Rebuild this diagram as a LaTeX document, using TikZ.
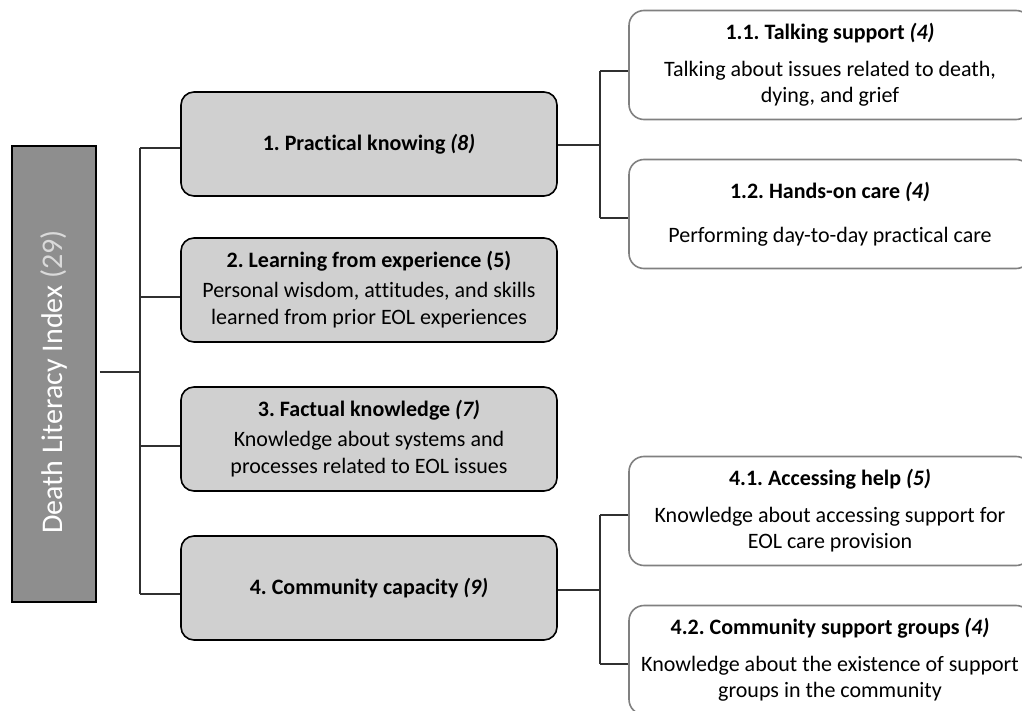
\documentclass[tikz,border=0pt]{standalone}
\usepackage{fontspec}
\setmainfont[Ligatures={NoCommon,NoContextual}]{Carlito}
\begin{document}
\frenchspacing
\begin{tikzpicture}[x=1pt,y=-1pt,
  mainbox/.style={draw=black,line width=1.6pt,fill=mainfill,rounded corners=13pt,
    minimum width=376pt,minimum height=104pt,align=center,inner sep=0pt,
    font=\fontsize{22}{27.5}\selectfont},
  subbox/.style={draw=subedge,line width=1.6pt,fill=white,rounded corners=15pt,
    minimum width=402pt,minimum height=109pt,align=center,inner sep=0pt,
    font=\fontsize{22}{26.5}\selectfont},
  rootbox/.style={draw=black,line width=1.6pt,fill=rootfill,minimum width=456pt,
    minimum height=84pt,inner sep=0pt,rotate=90,text=white,
    font=\fontsize{30}{34}\selectfont},
  conn/.style={draw=connc,line width=1.2pt}]
\definecolor{mainfill}{HTML}{D0D0D0}
\definecolor{rootfill}{HTML}{8E8E8E}
\definecolor{subedge}{HTML}{808080}
\definecolor{connc}{HTML}{303030}
\definecolor{lightnum}{HTML}{DADADA}
\useasboundingbox (0,0) rectangle (1022,711);
\clip (0,0) rectangle (1022,711);
\fill[white] (0,0) rectangle (1022,711);

\node[rootbox] (root) at (54,374) {Death Literacy Index \textcolor{lightnum}{(29)}\hspace*{16pt}};

\node[mainbox] (b1) at (369,144) {\textbf{1. Practical knowing \textit{(8)}}};
\node[mainbox] (b2) at (369,290) {\textbf{2. Learning from experience (5)}\\[2pt]Personal wisdom, at\-titudes, and skills\\learned from prior EOL experiences};
\node[mainbox] (b3) at (369,439) {\textbf{3. Factual knowledge \textit{(7)}}\\[2pt]Knowledge about systems and\\processes related to EOL issues};
\node[mainbox] (b4) at (369,588) {\textbf{4. Community capacity \textit{(9)}}};

\node[subbox] (s11) at (830,65) {\textbf{1.1. Talking support \textit{(4)}}\\[10pt]Talking about issues related to death,\\dying, and grief};
\node[subbox] (s12) at (830,214) {\textbf{1.2. Hands-on care \textit{(4)}}\\[17pt]Performing day-to-day practical care};
\node[subbox] (s41) at (830,511) {\textbf{4.1. Accessing help \textit{(5)}}\\[10pt]Knowledge about accessing support for\\EOL care provision};
\node[subbox] (s42) at (830,660) {\textbf{4.2. Community support groups \textit{(4)}}\\[10pt]Knowledge about the existence of support\\groups in the community};

% trunk
\coordinate (t0) at (140,372);
\coordinate (t1) at (140,148);
\coordinate (t2) at (140,297);
\coordinate (t3) at (140,446);
\coordinate (t4) at (140,594);
\draw[conn] ([xshift=3pt]root.south |- t0) -- (t0);
\draw[conn] (t1) -- (t4);
\draw[conn] (t1) -- (t1 -| b1.west);
\draw[conn] (t2) -- (t2 -| b2.west);
\draw[conn] (t3) -- (t3 -| b3.west);
\draw[conn] (t4) -- (t4 -| b4.west);

% right branches
\coordinate (u0) at (600,145);
\coordinate (u1) at (600,71);
\coordinate (u2) at (600,218);
\draw[conn] (b1.east |- u0) -- (u0);
\draw[conn] (u1) -- (u2);
\draw[conn] (u1) -- (u1 -| s11.west);
\draw[conn] (u2) -- (u2 -| s12.west);

\coordinate (v0) at (600,590);
\coordinate (v1) at (600,515);
\coordinate (v2) at (600,664);
\draw[conn] (b4.east |- v0) -- (v0);
\draw[conn] (v1) -- (v2);
\draw[conn] (v1) -- (v1 -| s41.west);
\draw[conn] (v2) -- (v2 -| s42.west);
\end{tikzpicture}
\end{document}
